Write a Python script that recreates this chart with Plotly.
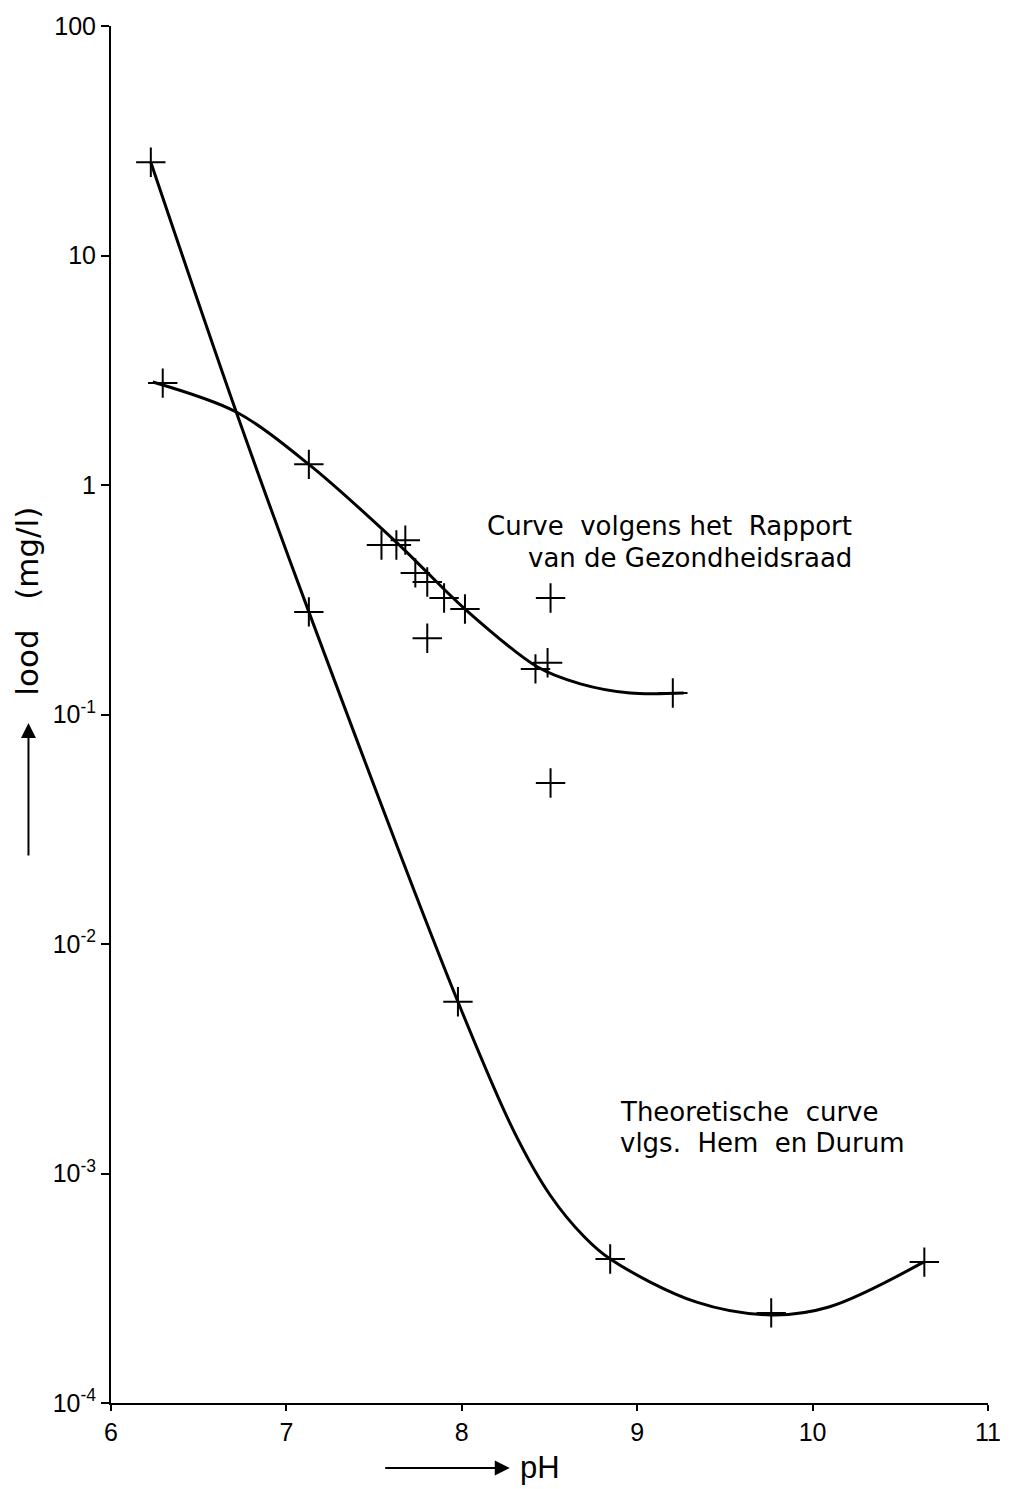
import plotly.graph_objects as go

# Theoretical curve (Hem en Durum) - curve knots
theo_curve_ph = [6.227, 6.714, 7.128, 7.978, 8.302, 8.506, 8.698, 8.846, 9.339, 9.764, 10.093, 10.632]
theo_curve_val = [25.5, 2.08, 0.28, 0.0056, 1.5e-3, 8.0e-4, 5.3e-4, 4.24e-4, 2.75e-4, 2.42e-4, 2.62e-4, 4.11e-4]
# Theoretical points (crosses)
theo_pts_ph = [6.227, 7.128, 7.978, 8.846, 9.764, 10.637]
theo_pts_val = [25.5, 0.28, 0.0056, 4.24e-4, 2.47e-4, 4.11e-4]

# Rapport Gezondheidsraad curve knots
rap_curve_ph = [6.238, 6.714, 7.128, 7.638, 8.018, 8.432, 8.676, 8.96, 9.265]
rap_curve_val = [2.81, 2.08, 1.23, 0.553, 0.288, 0.161, 0.136, 0.124, 0.124]
# Rapport measured points
rap_pts_ph = [6.295, 7.128, 7.542, 7.627, 7.678, 7.735, 7.803, 7.899, 8.018, 7.803, 8.506, 8.42, 8.489, 9.203, 8.506]
rap_pts_val = [2.78, 1.23, 0.548, 0.548, 0.575, 0.414, 0.378, 0.322, 0.288, 0.215, 0.322, 0.158, 0.168, 0.124, 0.0503]

x_ticks = [6, 7, 8, 9, 10, 11]
y_tickvals = [1e-4, 1e-3, 1e-2, 1e-1, 1, 10, 100]
y_ticktext = ["10<sup>-4</sup>", "10<sup>-3</sup>", "10<sup>-2</sup>", "10<sup>-1</sup>", "1", "10", "100"]

FONT = "Liberation Sans, Arial, sans-serif"
FONT2 = "DejaVu Sans, sans-serif"

fig = go.Figure()
fig.add_trace(go.Scatter(x=theo_curve_ph, y=theo_curve_val, mode="lines",
                         line=dict(color="black", width=3, shape="spline", smoothing=1.0),
                         showlegend=False, hoverinfo="skip"))
fig.add_trace(go.Scatter(x=rap_curve_ph, y=rap_curve_val, mode="lines",
                         line=dict(color="black", width=3, shape="spline", smoothing=0.9),
                         showlegend=False, hoverinfo="skip"))
fig.add_trace(go.Scatter(x=theo_pts_ph, y=theo_pts_val, mode="markers",
                         marker=dict(symbol="cross-thin", size=21, line=dict(color="black", width=2)),
                         showlegend=False))
fig.add_trace(go.Scatter(x=rap_pts_ph, y=rap_pts_val, mode="markers",
                         marker=dict(symbol="cross-thin", size=21, line=dict(color="black", width=2)),
                         showlegend=False))

fig.update_xaxes(range=[6, 11], tickvals=x_ticks, ticktext=[str(v) for v in x_ticks],
                 showline=True, linecolor="black", linewidth=2, ticks="outside",
                 ticklen=6, tickwidth=2, tickcolor="black", showgrid=False, zeroline=False,
                 tickfont=dict(family=FONT, size=25, color="black"))
fig.update_yaxes(type="log", range=[-4, 2], tickvals=y_tickvals, ticktext=y_ticktext,
                 showline=True, linecolor="black", linewidth=2, ticks="outside",
                 ticklen=8, tickwidth=2, tickcolor="black", showgrid=False, zeroline=False,
                 tickfont=dict(family=FONT, size=25, color="black"))

W, H = 1013, 1489
L, R, T, B = 111, 20, 24, 86
pw, ph = W - L - R, H - T - B

def px(xp):
    return (xp - L) / pw

def py(yp):
    return (H - B - yp) / ph

annots = [
    dict(text="Curve  volgens het  Rapport", x=px(858), y=py(525),
         xanchor="right", yanchor="middle", font=dict(size=26, family=FONT2)),
    dict(text="van de Gezondheidsraad", x=px(858), y=py(557),
         xanchor="right", yanchor="middle", font=dict(size=26, family=FONT2)),
    dict(text="Theoretische  curve", x=px(621), y=py(1112),
         xanchor="left", yanchor="middle", font=dict(size=26, family=FONT2)),
    dict(text="vlgs.  Hem  en Durum", x=px(621), y=py(1143),
         xanchor="left", yanchor="middle", font=dict(size=26, family=FONT2)),
    dict(text="lood   (mg/l)", x=px(27), y=py(600), textangle=-90,
         xanchor="center", yanchor="middle", font=dict(size=31, family=FONT2)),
    dict(text="pH", x=px(542), y=py(1468), xanchor="center", yanchor="middle",
         font=dict(size=31, family=FONT)),
]
for a in annots:
    a.update(xref="paper", yref="paper", showarrow=False)
    a["font"].update(color="black")

# arrows
annots.append(dict(x=px(28), y=py(722), xref="paper", yref="paper", ax=0, ay=134,
                   axref="pixel", ayref="pixel", showarrow=True, arrowhead=2, arrowsize=1.5,
                   arrowwidth=2, arrowcolor="black", text=""))
annots.append(dict(x=px(512), y=py(1468), xref="paper", yref="paper", ax=-126, ay=0,
                   axref="pixel", ayref="pixel", showarrow=True, arrowhead=2, arrowsize=1.5,
                   arrowwidth=2, arrowcolor="black", text=""))

fig.update_layout(width=W, height=H, margin=dict(l=L, r=R, t=T, b=B),
                  plot_bgcolor="white", paper_bgcolor="white",
                  font=dict(family=FONT, color="black"), annotations=annots)

fig.write_html("out.html")
